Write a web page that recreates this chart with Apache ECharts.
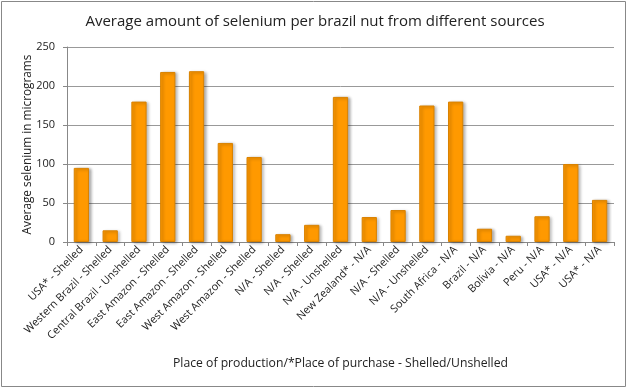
<!DOCTYPE html>
<html><head><meta charset="utf-8">
<script src="https://cdn.jsdelivr.net/npm/echarts@6/dist/echarts.min.js"></script>
<style>html,body{margin:0;padding:0;background:#fff}#c{width:630px;height:388px}</style>
</head><body><div id="c"></div>
<script>
var categories = ["USA* - Shelled","Western Brazil - Shelled","Central Brazil - Unshelled","East Amazon - Shelled","East Amazon - Shelled","West Amazon - Shelled","West Amazon - Shelled","N/A - Shelled","N/A - Shelled","N/A - Unshelled","New Zealand* - N/A","N/A - Shelled","N/A - Unshelled","South Africa - N/A","Brazil - N/A","Bolivia - N/A","Peru - N/A","USA* - N/A","USA* - N/A"];
var selenium = [95, 15, 180, 218, 219, 127, 109, 10, 22, 186, 32, 41, 175, 180, 17, 8, 33, 100, 54];
var yTicks = [0, 50, 100, 150, 200, 250];

var font = "'Open Sans', 'Noto Sans', sans-serif";
var chart = echarts.init(document.getElementById('c'), null, {renderer:'canvas'});
chart.setOption({
  animation:false,
  backgroundColor:'#fff',
  title:{text:'Average amount of selenium per brazil nut from different sources',left:'center',top:9,
    textStyle:{fontFamily:font,fontSize:15,fontWeight:'normal',color:'#222'}},
  graphic:[{type:'rect',shape:{x:1.5,y:1.5,width:624,height:385},style:{fill:'none',stroke:'#888',lineWidth:1}}],
  grid:{left:67,right:16,top:47,bottom:146},
  xAxis:{type:'category',data:categories,
    axisLine:{lineStyle:{color:'#888'}},
    axisTick:{show:true,alignWithLabel:false,length:4,lineStyle:{color:'#888'}},
    axisLabel:{rotate:45,interval:0,fontFamily:font,fontSize:10.8,color:'#222',margin:6},
    name:'Place of production/*Place of purchase - Shelled/Unshelled',nameLocation:'middle',nameGap:116,
    nameTextStyle:{fontFamily:font,fontSize:12.2,color:'#222'}},
  yAxis:{type:'value',min:yTicks[0],max:yTicks[yTicks.length-1],interval:50,
    axisLine:{show:true,lineStyle:{color:'#888'}},
    axisTick:{show:true,length:4,lineStyle:{color:'#888'}},
    axisLabel:{fontFamily:font,fontSize:11,color:'#222',margin:12},
    splitLine:{lineStyle:{color:'#999'}},
    name:'Average selenium in micrograms',nameLocation:'middle',nameGap:33,nameMoveOverlap:false,
    nameTextStyle:{fontFamily:font,fontSize:11.8,color:'#222'}},
  series:[{type:'bar',data:selenium,barWidth:'53%',
    itemStyle:{color:'#ff9900',borderColor:'#d98200',borderWidth:1,
      shadowColor:'rgba(0,0,0,0.3)',shadowBlur:3,shadowOffsetX:2,shadowOffsetY:1}}]
});
</script></body></html>
